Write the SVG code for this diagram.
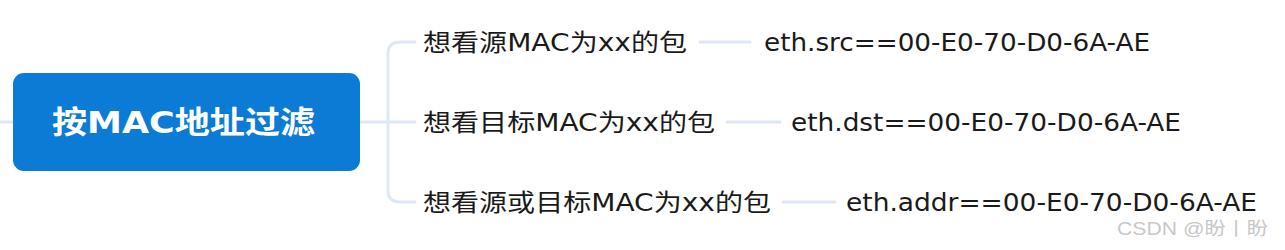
<svg xmlns="http://www.w3.org/2000/svg" width="1285" height="250" viewBox="0 0 1285 250">
<style>
.c{fill:none;stroke:#dde8f4;stroke-width:3;stroke-linecap:round}
.t{font-family:"DejaVu Sans","Noto Sans CJK SC",sans-serif;font-size:24px;fill:#1a1a1a}
.r{font-family:"DejaVu Sans","Noto Sans CJK SC",sans-serif;font-size:31px;font-weight:bold;fill:#ffffff}
.w{font-family:"Liberation Sans","Noto Sans CJK SC",sans-serif;font-size:18px;fill:#c8c8c8}
</style>
<rect width="1285" height="250" fill="#ffffff"/>
<g id="connectors">
<path class="c" d="M0 122 H13"/>
<path class="c" d="M360 122 H415"/>
<path class="c" d="M415 42 H400 Q388 42 388 54 V190 Q388 202 400 202 H415"/>
<path class="c" d="M700 42 H750"/>
<path class="c" d="M727 122 H780"/>
<path class="c" d="M783 202 H835"/>
</g>
<g id="root">
<rect x="13" y="73" width="347" height="98" rx="11" fill="#0b7bd6"/>
<text class="r" x="52" y="133" textLength="263" lengthAdjust="spacingAndGlyphs">按MAC地址过滤</text>
</g>
<g id="n1"><text class="t" x="423" y="51" textLength="264" lengthAdjust="spacingAndGlyphs">想看源MAC为xx的包</text></g>
<g id="n2"><text class="t" x="423" y="131" textLength="292" lengthAdjust="spacingAndGlyphs">想看目标MAC为xx的包</text></g>
<g id="n3"><text class="t" x="423" y="211" textLength="348" lengthAdjust="spacingAndGlyphs">想看源或目标MAC为xx的包</text></g>
<g id="l1"><text class="t" x="764" y="51" textLength="386" lengthAdjust="spacingAndGlyphs">eth.src==00-E0-70-D0-6A-AE</text></g>
<g id="l2"><text class="t" x="791" y="131" textLength="390" lengthAdjust="spacingAndGlyphs">eth.dst==00-E0-70-D0-6A-AE</text></g>
<g id="l3"><text class="t" x="846" y="211" textLength="411" lengthAdjust="spacingAndGlyphs">eth.addr==00-E0-70-D0-6A-AE</text></g>
<text class="w" x="1117" y="235" textLength="151" lengthAdjust="spacingAndGlyphs">CSDN @盼丨盼</text>
</svg>
